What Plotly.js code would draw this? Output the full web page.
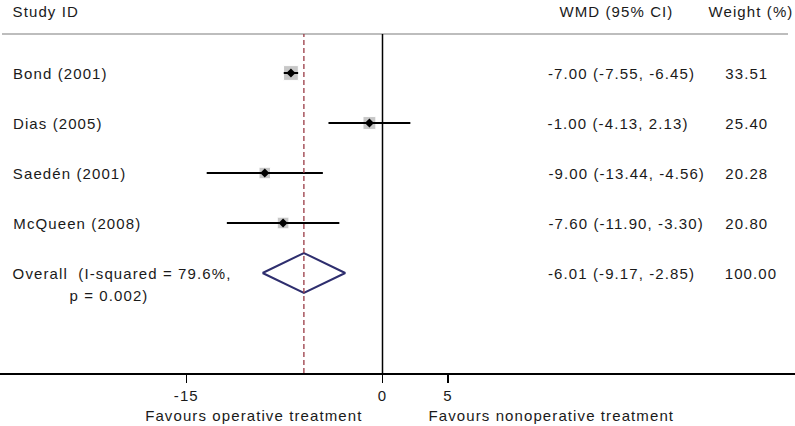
<!DOCTYPE html>
<html><head><meta charset="utf-8">
<script src="https://cdn.plot.ly/plotly-3.0.1.min.js"></script>
<style>html,body{margin:0;padding:0;background:#fff}#chart{width:795px;height:426px}
#chart text{letter-spacing:1.1px}</style>
</head><body><div id="chart"></div><script>
const studies = ["Bond (2001)", "Dias (2005)", "Saedén (2001)", "McQueen (2008)"];
const wmd = [-7.00, -1.00, -9.00, -7.60];
const ciLow = [-7.55, -4.13, -13.44, -11.90];
const ciHigh = [-6.45, 2.13, -4.56, -3.30];
const weights = [33.51, 25.40, 20.28, 20.80];
const overallLabel = "Overall  (I-squared = 79.6%,";
const overallP = "p = 0.002)";
const overallWmd = -6.01, overallLow = -9.17, overallHigh = -2.85, overallWeight = 100.00;
const tickVals = [-15, 0, 5];
const tickText = ["-15", "0", "5"];
const headers = ["Study ID", "WMD (95% CI)", "Weight (%)"];
const favLeft = "Favours operative treatment";
const favRight = "Favours nonoperative treatment";

const rows = studies.map((s, i) => i + 1);
const overallRow = studies.length + 1;
const W = 795, plotTop = 34, plotBot = 373;
const SP = 1.1;
const px = p => p / W;
const py = p => (plotBot - p) / (plotBot - plotTop);
const fmt = v => v.toFixed(2);
const txtFont = {family: "Liberation Sans, Arial, sans-serif", size: 15, color: "#1a1a1a"};

const traces = [
  {x: wmd, y: rows, type: "scatter", mode: "markers", hoverinfo: "skip",
   marker: {symbol: "square", color: "#b0b0b0", size: weights.map(w => 2.55 * Math.sqrt(w))}},
  {x: wmd, y: rows, type: "scatter", mode: "markers", hoverinfo: "skip",
   marker: {size: 1, opacity: 0},
   error_x: {type: "data", symmetric: false, array: ciHigh.map((h, i) => h - wmd[i]),
             arrayminus: ciLow.map((l, i) => wmd[i] - l), width: 0, thickness: 2, color: "#000"}},
  {x: wmd, y: rows, type: "scatter", mode: "markers", hoverinfo: "skip",
   marker: {symbol: "diamond", color: "#000", size: 7}},
  {x: [overallLow, overallWmd, overallHigh, overallWmd, overallLow],
   y: [overallRow, overallRow - 0.4, overallRow, overallRow + 0.4, overallRow],
   type: "scatter", mode: "lines", hoverinfo: "skip",
   line: {color: "#2e2e6e", width: 2}}
];

const ann = [];
function addText(text, xPix, y, yref, xanchor) {
  const a = xanchor || "left";
  const shift = a === "left" ? text.length * SP / 2 : 0;
  ann.push({text: text, x: px(xPix + shift), y: y, xref: "paper", yref: yref, xanchor: a,
            yanchor: "middle", showarrow: false, font: txtFont});
}
addText(headers[0], 11, py(12), "paper");
addText(headers[1], 557, py(12), "paper");
addText(headers[2], 706, py(12), "paper");
studies.forEach((s, i) => {
  addText(s, 11, rows[i], "y");
  addText(fmt(wmd[i]) + " (" + fmt(ciLow[i]) + ", " + fmt(ciHigh[i]) + ")", 546, rows[i], "y");
  addText(fmt(weights[i]), 723, rows[i], "y");
});
addText(overallLabel, 11, overallRow, "y");
addText(overallP, 67, overallRow + 0.44, "y");
addText(fmt(overallWmd) + " (" + fmt(overallLow) + ", " + fmt(overallHigh) + ")", 546, overallRow, "y");
addText(fmt(overallWeight), 723, overallRow, "y");
addText(favLeft, 254, py(415), "paper", "center");
addText(favRight, 551, py(415), "paper", "center");

const layout = {
  width: W, height: 426,
  margin: {l: 0, r: 0, t: plotTop, b: 426 - plotBot, pad: 0},
  paper_bgcolor: "#fff", plot_bgcolor: "#fff",
  showlegend: false,
  xaxis: {range: [-382.5 / 13.08, (W - 382.5) / 13.08], showgrid: false, zeroline: false,
          showline: true, linecolor: "#000", linewidth: 1.5, ticks: "outside", ticklen: 8,
          tickwidth: 1.5, tickcolor: "#000", tickvals: tickVals, ticktext: tickText,
          tickfont: txtFont, fixedrange: true},
  yaxis: {range: [7, 0.22], visible: false, fixedrange: true},
  shapes: [
    {type: "line", xref: "paper", yref: "paper", x0: px(2), x1: px(788), y0: 1, y1: 1,
     line: {color: "#bdbdbd", width: 2}},
    {type: "line", xref: "x", yref: "paper", x0: 0, x1: 0, y0: 0, y1: 1,
     line: {color: "#000", width: 1.5}},
    {type: "line", xref: "x", yref: "paper", x0: overallWmd, x1: overallWmd, y0: 0, y1: 1,
     line: {color: "#9a3a45", width: 1.3, dash: "5px,3px"}}
  ],
  annotations: ann
};
Plotly.newPlot("chart", traces, layout, {staticPlot: true, displayModeBar: false});
</script></body></html>
